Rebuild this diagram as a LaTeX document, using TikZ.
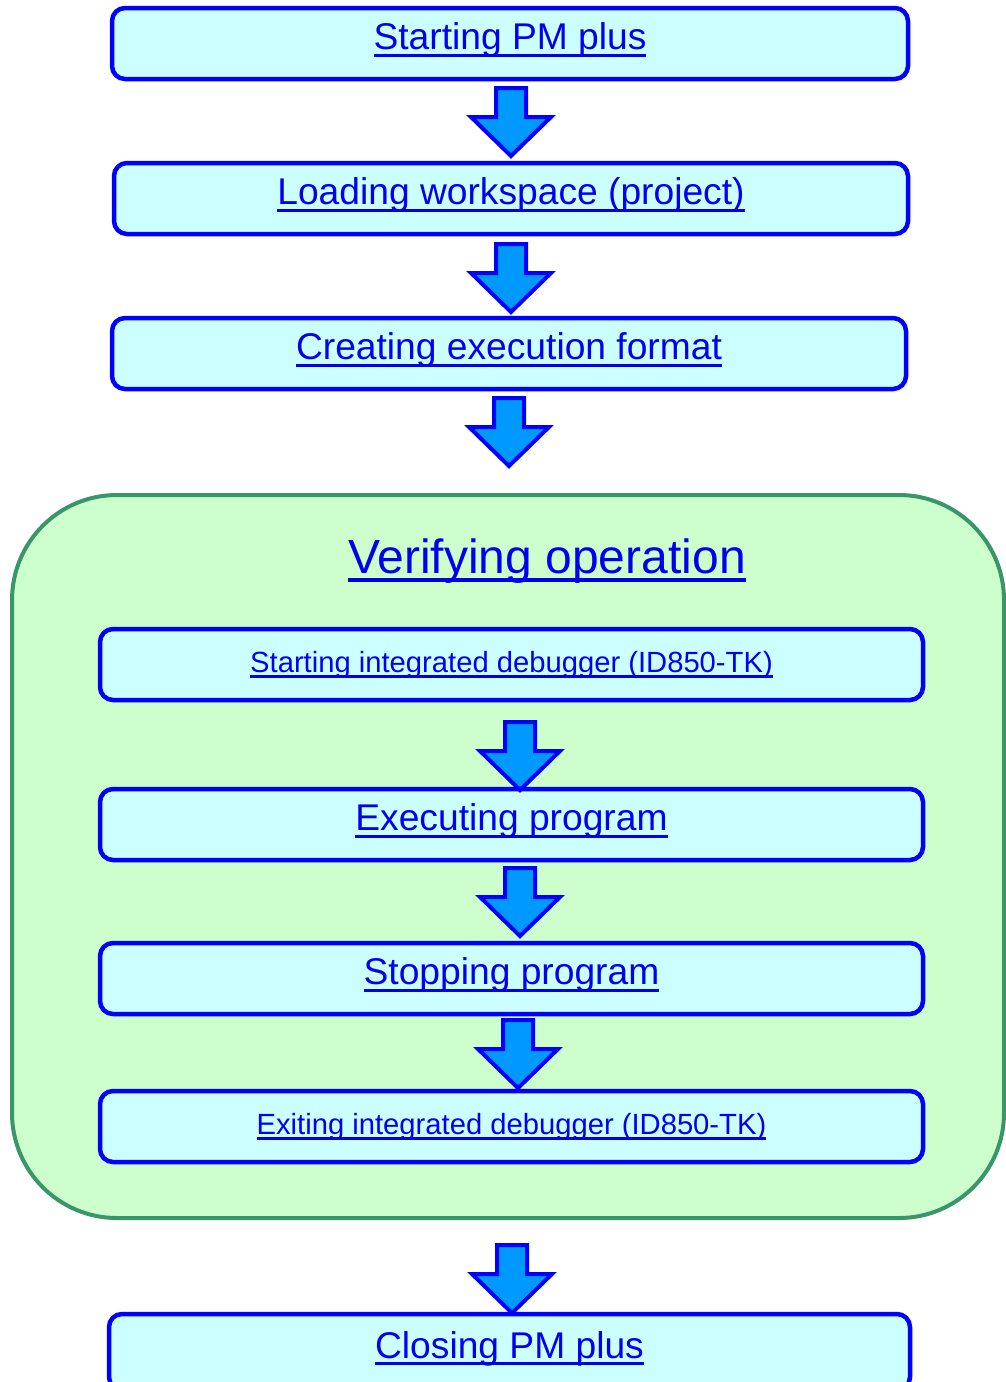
\documentclass[tikz,border=0pt]{standalone}
\usepackage{fontspec}
\setmainfont{Liberation Sans}
\definecolor{boxfill}{RGB}{204,255,255}
\definecolor{boxline}{RGB}{0,0,255}
\definecolor{grpfill}{RGB}{204,255,204}
\definecolor{grpline}{RGB}{56,150,105}
\definecolor{arrfill}{RGB}{0,153,255}
\definecolor{lnkcol}{RGB}{0,0,240}
\newcommand\lnk[1]{\setbox0=\hbox{#1}\rlap{\rule[-0.19em]{\wd0}{0.08em}}\box0}
\newcommand\blockarrow[2]{\draw[barrow] (#1-15,#2) -- (#1+15,#2) -- (#1+15,#2+29) -- (#1+40,#2+29) -- (#1,#2+68) -- (#1-40,#2+29) -- (#1-15,#2+29) -- cycle;}
\tikzset{
  stepbox/.style={draw=boxline, fill=boxfill, line width=4.5pt, rounded corners=13pt,
    minimum height=71pt, inner xsep=0pt, inner ysep=0pt, text=lnkcol, align=center},
  bigtxt/.style={font=\fontsize{37.2}{40}\selectfont, text height=22pt, text depth=10pt},
  smalltxt/.style={font=\fontsize{29.2}{32}\selectfont, text height=25pt, text depth=10pt},
  group/.style={draw=grpline, fill=grpfill, line width=4pt, rounded corners=105pt},
  barrow/.style={draw=boxline, fill=arrfill, line width=4pt, line join=miter},
}
\begin{document}
\begin{tikzpicture}[x=1pt,y=-1pt]
\useasboundingbox (0,0) rectangle (1006,1382);
% group container
\draw[group] (12,495) rectangle (1004,1218);
\node[text=lnkcol, font=\fontsize{48}{52}\selectfont, anchor=base, inner sep=0pt] (title) at (547,573) {\lnk{Verifying operation}};
% boxes
\node[stepbox, bigtxt, minimum width=796pt] (b1) at (510,43.5) {\lnk{Starting PM plus}};
\node[stepbox, bigtxt, minimum width=794pt] (b2) at (511,198.5) {\lnk{Loading workspace (project)}};
\node[stepbox, bigtxt, minimum width=794pt] (b3) at (509,353.5) {\lnk{Creating execution format}};
\node[stepbox, smalltxt, minimum width=823pt] (v1) at (511.5,664.5) {\lnk{Starting integrated debugger (ID850-TK)}};
\node[stepbox, bigtxt, minimum width=823pt] (v2) at (511.5,824.5) {\lnk{Executing program}};
\node[stepbox, bigtxt, minimum width=823pt] (v3) at (511.5,978.5) {\lnk{Stopping program}};
\node[stepbox, smalltxt, minimum width=823pt] (v4) at (511.5,1126.5) {\lnk{Exiting integrated debugger (ID850-TK)}};
\node[stepbox, bigtxt, minimum width=801pt, minimum height=76pt] (b4) at (509.5,1352) {\lnk{Closing PM plus}};
% block arrows
\blockarrow{511}{88}
\blockarrow{511}{244}
\blockarrow{509}{398}
\blockarrow{520}{722}
\blockarrow{520}{868}
\blockarrow{518}{1020}
\blockarrow{512}{1245}
\end{tikzpicture}
\end{document}
